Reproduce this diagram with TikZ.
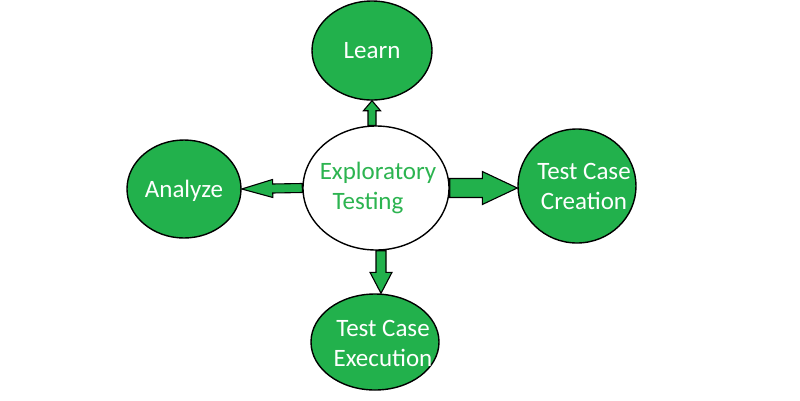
\documentclass[tikz,border=0pt]{standalone}
\usepackage{fontspec}
\setmainfont{Carlito}
\usetikzlibrary{shapes.geometric,calc}
\definecolor{gfill}{RGB}{34,177,76}
\definecolor{gtext}{RGB}{44,180,80}
\tikzset{
  bubble/.style={ellipse, draw=black, line width=1.4pt, fill=gfill, inner sep=0pt},
  centre/.style={bubble, fill=white},
  wtext/.style={text=white, inner sep=0pt, font=\fontsize{25}{30}\selectfont, align=center},
  gtextst/.style={wtext, text=gtext},
  barrowstyle/.style={draw=black, fill=gfill, line width=1.1pt, line join=miter},
}
% #1 tail, #2 tip, #3 shaft half width, #4 head half width, #5 head length
\newcommand\blockarrow[5]{%
  \coordinate (hb) at ($(#2)!#5!(#1)$);
  \draw[barrowstyle] ($(#1)!#3!90:(#2)$) -- ($(hb)!#3!90:(#2)$) -- ($(hb)!#4!90:(#2)$) -- (#2)
     -- ($(hb)!#4!-90:(#2)$) -- ($(hb)!#3!-90:(#2)$) -- ($(#1)!#3!-90:(#2)$) -- cycle;
}
\begin{document}
\begin{tikzpicture}[x=1pt,y=-1pt]
\path[use as bounding box, fill=white] (0,0) rectangle (800,400);
\node[centre, minimum width=146pt, minimum height=124pt] (c) at (376,188) {};
\node[gtextst] (ct) at ([xshift=2pt]c.center) {Exploratory\\Testing\hspace*{20pt}};
\node[bubble, minimum width=120pt, minimum height=99pt] (learn) at (372,50.5) {};
\node[wtext] (lt) at (learn.center) {Learn};
\node[bubble, minimum width=114pt, minimum height=98pt] (an) at (184,189) {};
\node[wtext] (at) at ([yshift=-2pt]an.center) {Analyze};
\node[bubble, minimum width=118pt, minimum height=114pt] (tcc) at (577,186) {};
\node[wtext] (tt) at ([xshift=7pt]tcc.center) {Test Case\\Creation};
\node[bubble, minimum width=128pt, minimum height=96pt] (exe) at (375,342) {};
\node[wtext] (et) at ([xshift=8pt,yshift=-1pt]exe.center) {Test Case\\Execution};
\coordinate (ut) at (c.north -| learn.south);
\coordinate (rt) at (tcc.west |- c.east);
\coordinate (dt) at ([xshift=5pt]c.south);
\coordinate (dh) at (dt |- exe.north);
\blockarrow{ut}{learn.south}{4pt}{8.5pt}{10pt}
\blockarrow{c.west}{an.east}{4.5pt}{9pt}{31pt}
\blockarrow{c.east}{rt}{9.5pt}{16.5pt}{35pt}
\blockarrow{dt}{dh}{5pt}{11pt}{21pt}
\end{tikzpicture}
\end{document}
